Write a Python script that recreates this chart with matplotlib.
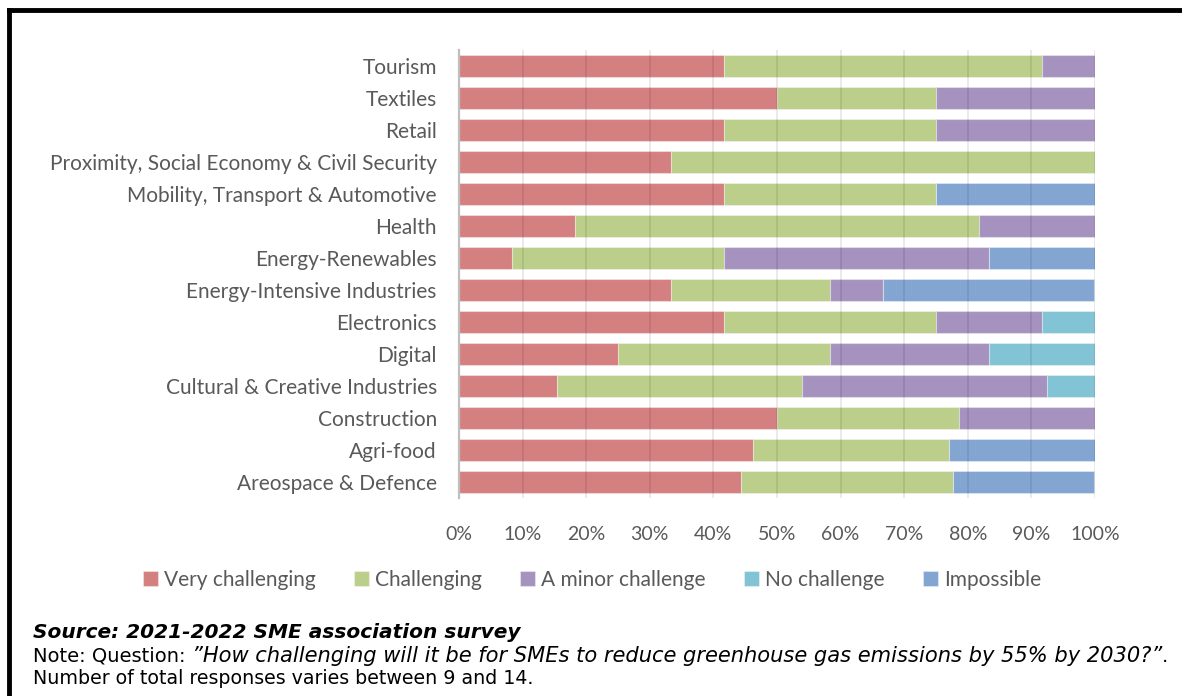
import matplotlib
matplotlib.use("Agg")
import matplotlib.pyplot as plt
import numpy as np

categories = ["Tourism", "Textiles", "Retail",
              "Proximity, Social Economy & Civil Security",
              "Mobility, Transport & Automotive", "Health",
              "Energy-Renewables", "Energy-Intensive Industries",
              "Electronics", "Digital", "Cultural & Creative Industries",
              "Construction", "Agri-food", "Areospace & Defence"]

very_challenging = [41.7, 50.0, 41.7, 33.3, 41.7, 18.2, 8.3, 33.3, 41.7, 25.0, 15.4, 50.0, 46.2, 44.4]
challenging      = [50.0, 25.0, 33.3, 66.7, 33.3, 63.6, 33.3, 25.0, 33.3, 33.3, 38.5, 28.6, 30.8, 33.3]
minor_challenge  = [8.3, 25.0, 25.0, 0.0, 0.0, 18.2, 41.7, 8.3, 16.7, 25.0, 38.5, 21.4, 0.0, 0.0]
no_challenge     = [0.0, 0.0, 0.0, 0.0, 0.0, 0.0, 0.0, 0.0, 8.3, 16.7, 7.7, 0.0, 0.0, 0.0]
impossible       = [0.0, 0.0, 0.0, 0.0, 25.0, 0.0, 16.7, 33.3, 0.0, 0.0, 0.0, 0.0, 23.1, 22.2]

series_names = ["Very challenging", "Challenging", "A minor challenge", "No challenge", "Impossible"]
series_colors = ["#D58080", "#BBCF8B", "#A692BF", "#82C4D5", "#82A6D1"]
xticks = [0, 10, 20, 30, 40, 50, 60, 70, 80, 90, 100]

TXT = "#595959"
FONT = "Lato"

fig = plt.figure(figsize=(11.82, 6.96), dpi=100)
ax = fig.add_axes([459/1182, 1 - 498/696, 636/1182, 448/696])

y = np.arange(len(categories))
left = np.zeros(len(categories))
series = [very_challenging, challenging, minor_challenge, no_challenge, impossible]
for name, vals, col in zip(series_names, series, series_colors):
    vals = np.array(vals)
    ax.barh(y, vals, left=left, height=0.68, color=col, label=name,
            edgecolor=(1, 1, 1, 0.35), linewidth=0.8, zorder=2)
    left += vals

ax.set_ylim(len(categories) - 0.5, -0.5)
ax.set_xlim(0, 100)
ax.set_yticks(y)
ax.set_yticklabels(categories, fontsize=15, color=TXT, family=FONT)
ax.set_xticks(xticks)
ax.set_xticklabels([f"{v}%" for v in xticks], fontsize=14, color=TXT, family=FONT)
ax.tick_params(axis="y", length=0, pad=16)
ax.tick_params(axis="x", length=0, pad=20)
ax.xaxis.grid(True, color="black", alpha=0.09, linewidth=1.3, zorder=3)
ax.set_axisbelow(False)
for s in ["top", "right", "bottom"]:
    ax.spines[s].set_visible(False)
ax.spines["left"].set_color("#BFBFBF")
ax.spines["left"].set_linewidth(1.6)
ax.spines["left"].set_zorder(4)

leg = fig.legend(loc="center", bbox_to_anchor=(592/1182, 1 - 580/696), ncol=5,
                 frameon=False, prop={"family": FONT, "size": 15},
                 handlelength=0.7, handleheight=0.7, handletextpad=0.3,
                 columnspacing=1.85)
for t in leg.get_texts():
    t.set_color(TXT)

# black frame (top and left)
fig.add_artist(plt.Line2D([9/1182, 1], [1 - 10/696, 1 - 10/696], color="black", lw=3.5,
                          transform=fig.transFigure))
fig.add_artist(plt.Line2D([9.5/1182, 9.5/1182], [0, 1 - 10/696], color="black", lw=3.5,
                          transform=fig.transFigure))

# footnotes
W, H = fig.get_size_inches() * fig.dpi
fig.text(33/W, 1 - 638/H, "Source: 2021-2022 SME association survey", fontsize=14.5,
         fontweight="bold", style="italic", family="DejaVu Sans", color="black",
         va="baseline")
fig.canvas.draw()
r = fig.canvas.get_renderer()
parts = [("Note: Question: ", "normal", 14),
         ("\u201DHow challenging will it be for SMEs to reduce greenhouse gas emissions by 55% by 2030?\u201D", "italic", 15.1),
         (".", "normal", 14)]
x = 33
for txt, st, fs in parts:
    t = fig.text(x/W, 1 - 662/H, txt, fontsize=fs, style=st, family="DejaVu Sans",
                 color="black", va="baseline")
    bb = t.get_window_extent(r)
    x = bb.x1
fig.text(33/W, 1 - 684/H, "Number of total responses varies between 9 and 14.", fontsize=13.7,
         family="DejaVu Sans", color="black", va="baseline")

fig.savefig("out.png", dpi=100)
